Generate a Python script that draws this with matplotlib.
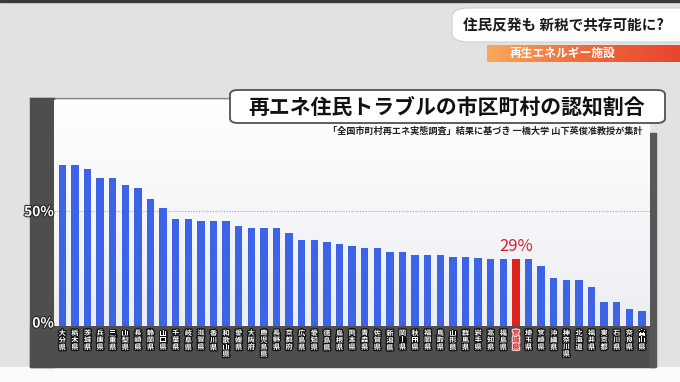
import numpy as np
import matplotlib
matplotlib.use("Agg")
import matplotlib.pyplot as plt
import matplotlib.patheffects as pe
from matplotlib.patches import Rectangle, FancyBboxPatch
from matplotlib.transforms import ScaledTranslation

plt.rcParams['font.family'] = ['Noto Sans CJK JP', 'DejaVu Sans']

# data
prefectures = ['大分県', '栃木県', '茨城県', '兵庫県', '三重県', '山梨県', '長崎県', '静岡県',
               '山口県', '千葉県', '岐阜県', '滋賀県', '香川県', '和歌山県', '愛媛県', '大阪府',
               '鹿児島県', '長野県', '京都府', '広島県', '愛知県', '徳島県', '島根県', '熊本県',
               '青森県', '佐賀県', '新潟県', '岡山県', '秋田県', '福岡県', '鳥取県', '山形県',
               '群馬県', '岩手県', '高知県', '福島県', '宮城県', '埼玉県', '宮崎県', '沖縄県',
               '神奈川県', '北海道', '福井県', '東京都', '石川県', '奈良県', '富山県']
rates = [70, 70, 68, 64, 64, 61, 60, 55, 51, 46.5, 46.5, 45.5, 45.5, 45.5, 43.5, 42.5,
         42.5, 42.5, 40.5, 37.5, 37.5, 36.5, 35.5, 34.5, 34, 34, 32, 32, 31, 31, 31, 30,
         30, 29.5, 29, 29, 29, 29, 26, 21, 20, 20, 17, 10.5, 10.5, 7.5, 6.5]
highlight = '宮城県'
highlight_label = '29%'
ytick_values = [0, 50]
ytick_labels = ['0%', '50%']

title = '再エネ住民トラブルの市区町村の認知割合'
subtitle = '「全国市町村再エネ実態調査」結果に基づき 一橋大学 山下英俊准教授が集計'
headline = '住民反発も 新税で共存可能に?'
banner = '再生エネルギー施設'

W, H = 680, 382
fig = plt.figure(figsize=(W / 100, H / 100), dpi=100)
fig.patch.set_facecolor('#e2e2e2')


def fx(x):
    return x / W


def fy(y):
    return 1 - y / H


def frect(x0, y0, x1, y1, **kw):
    fig.patches.append(Rectangle((fx(x0), fy(y1)), fx(x1) - fx(x0), fy(y0) - fy(y1),
                                 transform=fig.transFigure, **kw))


# background pieces
frect(0, 0, W, 2, color='#3a3a3a', zorder=0)
frect(0, 367, W, H, color='#fbfbfb', zorder=0)
fig.lines.append(plt.Line2D([0, 1], [fy(380), fy(380)], transform=fig.transFigure,
                            color='#a0a0a0', lw=1, zorder=0))
# dark frame around the chart
frect(30, 98, 54, 367, color='#4e4e4e', zorder=0)
frect(30, 326, 655, 367, color='#4e4e4e', zorder=0)
frect(650, 133, 656, 367, color='#575757', zorder=0)
fig.lines.append(plt.Line2D([fx(30), fx(232)], [fy(98), fy(98)], transform=fig.transFigure,
                            color='#8a8a8a', lw=1, zorder=0))

# plot area
ax = fig.add_axes([fx(54), fy(326), fx(650) - fx(54), fy(100) - fy(326)])
ax.set_zorder(1)
grad = np.linspace(0, 1, 100).reshape(-1, 1)
ax.imshow(grad, extent=[0, 1, 0, 1], transform=ax.transAxes, aspect='auto',
          cmap=matplotlib.colors.LinearSegmentedColormap.from_list('bg', ['#eceef3', '#ffffff']),
          origin='lower', zorder=0)

x = np.arange(len(prefectures))
colors = ['#e0221e' if p == highlight else '#3d63e6' for p in prefectures]
ax.bar(x, rates, width=0.58, color=colors, zorder=2)
ax.axhline(50, color='#a8a8a8', linestyle=(0, (1, 1.5)), lw=0.8, zorder=1)

ax.set_xlim(-0.66, len(prefectures) - 1 + 0.64)
ax.set_ylim(0, 98)
for s in ax.spines.values():
    s.set_visible(False)

ax.set_yticks(ytick_values, labels=ytick_labels)
ax.tick_params(axis='y', length=0, pad=0, labelsize=10, labelcolor='white')
for lab in ax.get_yticklabels():
    lab.set_fontweight('bold')
    lab.set_path_effects([pe.withStroke(linewidth=1.5, foreground='#222222')])
ax.get_yticklabels()[0].set_transform(ax.get_yticklabels()[0].get_transform()
                                      + ScaledTranslation(0, 4 / 100, fig.dpi_scale_trans))

ax.set_xticks(x, labels=['\n'.join(p) for p in prefectures])
ax.tick_params(axis='x', length=0, pad=2.5, labelsize=5.2)
for lab, p in zip(ax.get_xticklabels(), prefectures):
    lab.set_linespacing(0.98)
    lab.set_fontweight('bold')
    if p == highlight:
        lab.set_color('#e0221e')
        lab.set_path_effects([pe.withStroke(linewidth=1.6, foreground='#ffd0d0')])
    else:
        lab.set_color('white')
        lab.set_path_effects([pe.withStroke(linewidth=1.8, foreground='#111111')])

hi = prefectures.index(highlight)
ax.text(hi, rates[hi] + 1.8, highlight_label, color='#d81f2a', fontsize=12,
        ha='center', va='bottom', zorder=3)

# title box
fig.patches.append(FancyBboxPatch((fx(230), fy(123)), fx(665) - fx(230), fy(90) - fy(123),
                                  boxstyle='round,pad=0,rounding_size=0.012',
                                  transform=fig.transFigure, fc='white', ec='#505050',
                                  lw=1.3, zorder=3))
fig.text(fx(447), fy(107), title, fontsize=15, fontweight='bold', color='#111111',
         ha='center', va='center', zorder=4)
fig.text(fx(643), fy(131), subtitle, fontsize=6.6, fontweight='bold', color='#222222',
         ha='right', va='center', zorder=4)

# headline box top right
fig.patches.append(FancyBboxPatch((fx(452), fy(42)), fx(700) - fx(452), fy(8) - fy(42),
                                  boxstyle='round,pad=0,rounding_size=0.025',
                                  transform=fig.transFigure, fc='white', ec='#d0d0d0',
                                  lw=0.8, zorder=3))
fig.text(fx(563), fy(25), headline, fontsize=10.5, fontweight='bold', color='#1a1a1a',
         ha='center', va='center', zorder=4)

bax = fig.add_axes([fx(487), fy(62), fx(680) - fx(487), fy(45) - fy(62)])
bax.imshow(np.linspace(0, 1, 100).reshape(1, -1), aspect='auto',
           cmap=matplotlib.colors.LinearSegmentedColormap.from_list('or', ['#f7a95c', '#ee6a3c', '#e8452e']))
bax.axis('off')
fig.text(fx(562), fy(53), banner, fontsize=8.5, fontweight='bold', color='white',
         ha='center', va='center', zorder=5)

fig.savefig('out.png', dpi=100, facecolor=fig.get_facecolor())
